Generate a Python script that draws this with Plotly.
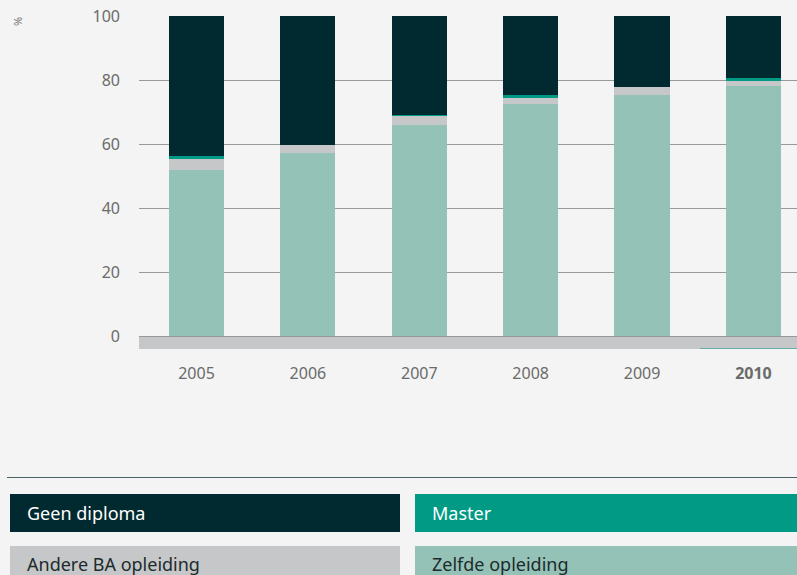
import plotly.graph_objects as go

years = ["2005", "2006", "2007", "2008", "2009", "2010"]
year_labels = ["2005", "2006", "2007", "2008", "2009", "<b>2010</b>"]
zelfde = [51.9, 57.2, 65.9, 72.5, 75.3, 78.1]
andere = [3.4, 2.5, 3.0, 2.2, 2.5, 1.9]
master = [0.9, 0.0, 0.2, 0.6, 0.0, 0.6]
geen = [43.8, 40.3, 30.9, 24.7, 22.2, 19.4]

series_names = ["Zelfde opleiding", "Andere BA opleiding", "Master", "Geen diploma"]
series_vals = [zelfde, andere, master, geen]
colors = ["#95c2b6", "#c6c7c8", "#009a85", "#002a30"]

BG = "#f3f4f3"
W, H = 797, 575
L, R, T, B = 139, 0, 16, 226
PW, PH = W - L - R, H - T - B

def px(x):
    return (x - L) / PW

def py(y):
    return (H - B - y) / PH

fig = go.Figure()
xs = list(range(len(years)))
for name, vals, col in zip(series_names, series_vals, colors):
    fig.add_trace(go.Bar(x=xs, y=vals, name=name, marker=dict(color=col, line=dict(width=0)),
                         width=0.495, showlegend=False, hoverinfo="skip"))

shapes = [
    dict(type="rect", xref="paper", yref="y", x0=0, x1=1, y0=-4, y1=0,
         fillcolor="#c6c7c8", line=dict(width=0), layer="below"),
    dict(type="line", xref="x", yref="y", x0=4.52, x1=5.391, y0=-4.1, y1=-4.1,
         line=dict(color="#009a85", width=1.5)),
    dict(type="line", xref="paper", yref="paper", x0=px(7), x1=1, y0=py(477.5), y1=py(477.5),
         line=dict(color="#4a6265", width=1.2)),
]
legend_boxes = [
    ("Geen diploma", 10, 400, 494, 532, 513, "#002a30", "white"),
    ("Master", 415, 797, 494, 532, 513, "#009a85", "white"),
    ("Andere BA opleiding", 10, 400, 546, 590, 564, "#c6c7c8", "#1c2b2d"),
    ("Zelfde opleiding", 415, 797, 546, 590, 564, "#95c2b6", "#1c2b2d"),
]
annotations = []
for text, x0, x1, y0, y1, cy, fc, tc in legend_boxes:
    shapes.append(dict(type="rect", xref="paper", yref="paper", x0=px(x0), x1=px(x1),
                       y0=py(y0), y1=py(y1), fillcolor=fc, line=dict(width=0)))
    annotations.append(dict(text=text, xref="paper", yref="paper", x=px(x0 + 15),
                            y=py(cy), xanchor="left", yanchor="middle", showarrow=False,
                            font=dict(family="Noto Sans", size=18, color=tc)))

annotations.append(dict(text="%", xref="paper", yref="paper", x=px(17), y=py(22),
                        xanchor="center", yanchor="middle", showarrow=False, textangle=-90,
                        font=dict(family="Noto Sans", size=11, color="#777777")))

fig.update_layout(
    width=W, height=H,
    margin=dict(l=L, r=R, t=T, b=B, pad=0),
    paper_bgcolor=BG, plot_bgcolor=BG,
    barmode="stack", bargap=0.5,
    font=dict(family="Noto Sans", size=16, color="#6b6b6b"),
    shapes=shapes, annotations=annotations,
    xaxis=dict(tickvals=xs, ticktext=year_labels, range=[-0.516, 5.391], showgrid=False,
               zeroline=False, showline=False, ticks="", ticklabelstandoff=13,
               tickfont=dict(size=16, color="#6b6b6b")),
    yaxis=dict(range=[-4, 100], tickvals=[0, 20, 40, 60, 80, 100], showgrid=True,
               gridcolor="#999999", gridwidth=1.3, zeroline=False, showline=False,
               ticks="", ticklabelstandoff=18, tickfont=dict(size=16, color="#6b6b6b")),
)

fig.write_html("out.html", config={"displayModeBar": False},
               post_script="document.body.style.margin='0';document.body.style.overflow='hidden';document.body.style.background='#f3f4f3';")
